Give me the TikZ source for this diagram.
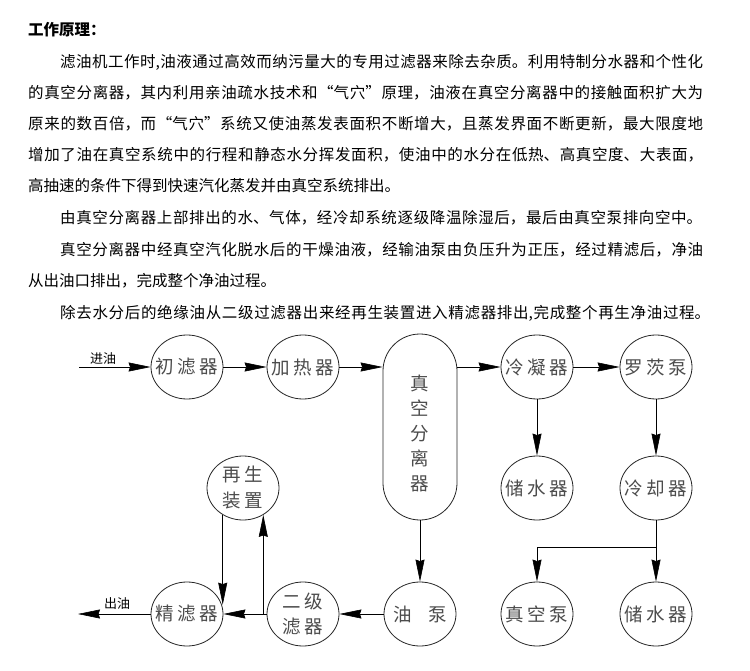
\documentclass[tikz,border=0pt]{standalone}
\usepackage{fontspec}
\setmainfont{Noto Sans CJK SC}
\usetikzlibrary{shapes.geometric,arrows.meta}
\XeTeXlinebreaklocale "zh"
\XeTeXlinebreakskip=0pt plus 3pt
\tolerance=10000
\newcommand\gp{\hspace{3.5pt}}
\newcommand\jl[4]{\node[anchor=base west,inner sep=0pt,text width=#2,align=justify,font=\fontsize{15.5}{20}\selectfont] (#4) at #1 {\parfillskip=0pt\relax #3\par};}
\newcommand\nl[3]{\node[anchor=base west,inner sep=0pt,font=\fontsize{15.5}{20}\selectfont] (#3) at #1 {#2};}
\begin{document}
\begin{tikzpicture}[x=1pt,y=-1pt,
  bub/.style={draw=black!85,line width=0.8pt,ellipse,minimum width=72pt,minimum height=64pt,inner sep=0pt},
  lab/.style={font=\fontsize{18.5}{25}\selectfont,text=black!70,inner sep=0pt,align=center},
  small/.style={font=\fontsize{13}{15}\selectfont,inner sep=0pt},
  arr/.style={line width=0.9pt,-{Stealth[length=22pt,width=9pt,inset=1.5pt,line width=0.6pt]}},
  ln/.style={line width=0.9pt}]
\useasboundingbox[fill=white] (0,0) rectangle (750,671);

% ---- text ----
\node[anchor=base west,inner sep=0pt,font=\fontsize{15.5}{20}\selectfont\bfseries] (title) at (28,36) {工作原理：};
\jl{(60,68)}{643pt}{滤油机工作时,油液通过高效而纳污量大的专用过滤器来除去杂质。利用特制分水器和个性化}{t1}
\jl{(28,99)}{675pt}{的真空分离器，其内利用亲油疏水技术和“气穴”原理，油液在真空分离器中的接触面积扩大为}{t2}
\jl{(28,130)}{675pt}{原来的数百倍，而“气穴”系统又使油蒸发表面积不断增大，且蒸发界面不断更新，最大限度地}{t3}
\jl{(28,161)}{675pt}{增加了油在真空系统中的行程和静态水分挥发面积，使油中的水分在低热、高真空度、大表面，}{t4}
\nl{(28,192)}{高抽速的条件下得到快速汽化蒸发并由真空系统排出。}{t5}
\jl{(60,224)}{642pt}{由真空分离器上部排出的水、气体，经冷却系统逐级降温除湿后，最后由真空泵排向空中。}{t6}
\jl{(60,256)}{643pt}{真空分离器中经真空汽化脱水后的干燥油液，经输油泵由负压升为正压，经过精滤后，净油}{t7}
\nl{(28,287)}{从出油口排出，完成整个净油过程。}{t8}
\jl{(60,318)}{650pt}{除去水分后的绝缘油从二级过滤器出来经再生装置进入精滤器排出,完成整个再生净油过程。}{t9}

% ---- shapes ----
\node[bub] (c1) at (187,367) {};
\node[bub] (c2) at (303,367) {};
\node[draw=black!85,line width=0.8pt,rectangle,rounded corners=37pt,minimum width=74pt,minimum height=186pt,inner sep=0pt] (sep) at (420,427) {};
\node[bub] (c3) at (537,367) {};
\node[bub] (c4) at (656,367) {};
\node[bub] (w1) at (537,488) {};
\node[bub] (c5) at (656,488) {};
\node[bub] (regen) at (243,488) {};
\node[bub] (f1) at (187,614) {};
\node[bub] (f2) at (303,614) {};
\node[bub] (op) at (420,614) {};
\node[bub] (vp) at (537,614) {};
\node[bub] (w2) at (656,614) {};

% ---- labels ----
\node[lab] (c1t) at (c1) {初\gp 滤\gp 器};
\node[lab] (c2t) at (c2) {加\gp 热\gp 器};
\node[lab] (sept) at (420,433) {真\\空\\分\\离\\器};
\node[lab] (c3t) at (c3) {冷\gp 凝\gp 器};
\node[lab] (c4t) at (c4) {罗\gp 茨\gp 泵};
\node[lab] (w1t) at (w1) {储\gp 水\gp 器};
\node[lab] (c5t) at (c5) {冷\gp 却\gp 器};
\node[lab,font=\fontsize{18.5}{26}\selectfont] (regent) at (regen) {再\gp 生\\装\gp 置};
\node[lab] (f1t) at (f1) {精\gp 滤\gp 器};
\node[lab] (f2t) at (f2) {二\gp 级\\滤\gp 器};
\node[lab] (opt) at (op) {油\hspace{17pt}泵};
\node[lab] (vpt) at (vp) {真\gp 空\gp 泵};
\node[lab] (w2t) at (w2) {储\gp 水\gp 器};

% ---- connectors ----
\coordinate (inS) at (79,367);
\coordinate (outE) at (78,614);
\node[small] (inl) at (103,359) {进油};
\node[small] (outl) at (117,604) {出油};
\draw[arr] (inS) -- (c1);
\draw[arr] (c1) -- (c2);
\draw[arr] (c2) -- (c2 -| sep.west);
\draw[arr] (c3 -| sep.east) -- (c3);
\draw[arr] (c3) -- (c4);
\draw[arr] (c3) -- (w1);
\draw[arr] (c4) -- (c5);
\coordinate (j3) at (656,547);
\draw[ln] (c5) -- (j3);
\draw[arr] (j3) -- (w2);
\draw[arr] (j3) -| (vp);
\draw[arr] (sep) -- (op);
\draw[arr] (op) -- (f2);
\draw[arr] (f2) -- (f1);
\coordinate (j2) at (regen.-53 |- f2.center);
\draw[arr] (j2) -- (regen.-53);
\draw[arr] (regen.-127) -- (regen.-127 |- f1.15);
\draw[arr] (f1) -- (outE);
\end{tikzpicture}
\end{document}
